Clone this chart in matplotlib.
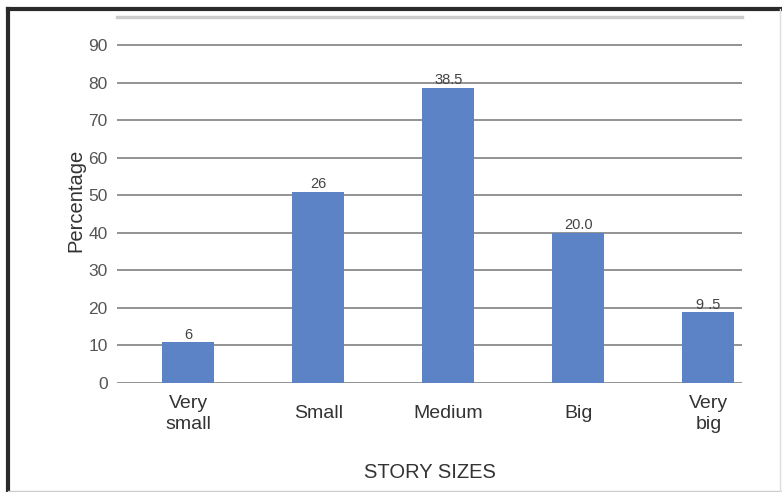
import matplotlib.pyplot as plt
import numpy as np
from matplotlib.lines import Line2D

categories = ['Very\nsmall', 'Small', 'Medium', 'Big', 'Very\nbig']
heights = [10.8, 50.8, 78.5, 40.0, 18.8]
bar_labels = ['6', '26', '38.5', '20.0', '9 .5']
yticks = [0, 10, 20, 30, 40, 50, 60, 70, 80, 90]

plt.rcParams['font.family'] = ['Liberation Sans', 'DejaVu Sans']

fig = plt.figure(figsize=(7.82, 4.92), dpi=100)
ax = fig.add_axes([0.150, 0.2215, 0.799, 0.7435])

x = np.arange(len(categories))
bars = ax.bar(x, heights, width=0.4, color='#5b83c6', zorder=3)
for b, lab in zip(bars, bar_labels):
    ax.text(b.get_x() + b.get_width() / 2, b.get_height() + 0.2, lab,
            ha='center', va='bottom', fontsize=10.5, color='#444444', zorder=4)

ax.set_xlim(-0.546, len(categories) - 1 + 0.26)
ax.set_ylim(0, 97.4)
ax.set_yticks(yticks)
ax.set_yticklabels([str(t) for t in yticks], fontsize=12.5, color='#555555')
ax.set_xticks(x)
ax.set_xticklabels(categories, fontsize=14, color='#333333', linespacing=1.3)
for lab in ax.get_xticklabels():
    lab.set_va('center')
ax.tick_params(axis='both', length=0)
ax.tick_params(axis='y', pad=7)
ax.tick_params(axis='x', pad=22)
ax.grid(axis='y', color='#8a8a8a', linewidth=1.3, zorder=0)

for s in ['left', 'right', 'bottom']:
    ax.spines[s].set_visible(False)
ax.spines['top'].set_color('#cccccc')
ax.spines['top'].set_linewidth(2.5)

ax.set_ylabel('Percentage', fontsize=14.5, color='#333333', labelpad=2)
ax.set_xlabel('STORY SIZES', fontsize=14.5, color='#333333', labelpad=22)

# outer frame of the screenshot
fig.add_artist(Line2D([8 / 782, 8 / 782], [0, 1 - 9 / 492], color='#2a2a2a',
                      linewidth=3, transform=fig.transFigure))
fig.add_artist(Line2D([8 / 782, 1], [1 - 9 / 492, 1 - 9 / 492], color='#2a2a2a',
                      linewidth=3, transform=fig.transFigure))
fig.add_artist(Line2D([8 / 782, 1], [1.5 / 492, 1.5 / 492], color='#cccccc',
                      linewidth=1, transform=fig.transFigure))
fig.add_artist(Line2D([780 / 782, 780 / 782], [0, 1 - 9 / 492], color='#dddddd',
                      linewidth=1, transform=fig.transFigure))

fig.savefig('out.png', dpi=100)
plt.close()
